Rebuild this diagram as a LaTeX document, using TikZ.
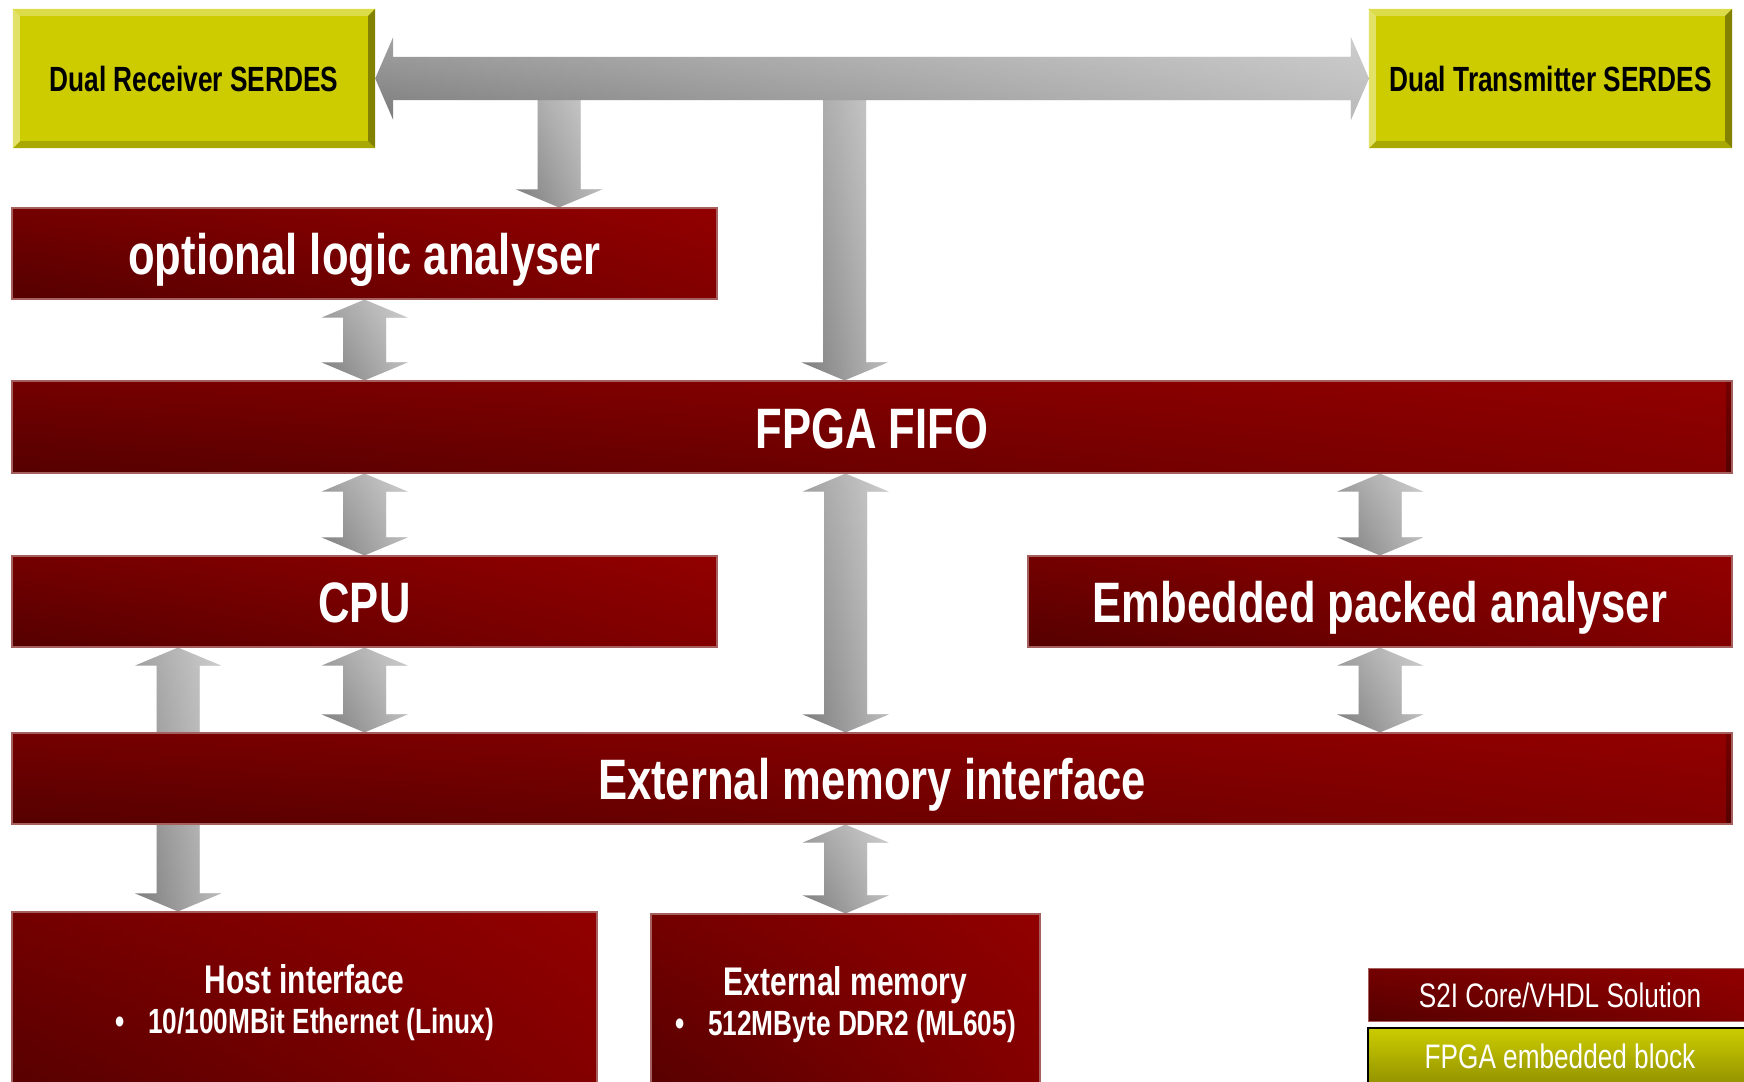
\documentclass[tikz,border=0pt]{standalone}
\usepackage{fontspec}
\setmainfont{Liberation Sans}[FakeStretch=0.75]
\newfontfamily\bigfont{Liberation Sans}[FakeStretch=0.765]
\newfontfamily\legendfont{Liberation Sans}[FakeStretch=0.77]
\usetikzlibrary{calc,fadings}

\definecolor{redTop}{RGB}{132,0,0}
\definecolor{redBot}{RGB}{70,0,0}
\definecolor{redOver}{RGB}{176,0,0}
\definecolor{redEdge}{RGB}{165,95,95}
\definecolor{yelFace}{RGB}{204,204,0}
\definecolor{yelTop}{RGB}{220,220,75}
\definecolor{yelLeft}{RGB}{226,226,105}
\definecolor{yelRight}{RGB}{130,130,0}
\definecolor{yelBottom}{RGB}{168,168,0}
\definecolor{yelLow}{RGB}{148,148,0}
\definecolor{grayTop}{RGB}{182,182,182}
\definecolor{grayBot}{RGB}{104,104,104}
\definecolor{grayOver}{RGB}{250,250,250}

% full-height vertical gradients, stretched to each shape
\pgfdeclareverticalshading{redvert}{100bp}{color(0bp)=(redBot); color(100bp)=(redTop)}
\pgfdeclareverticalshading{grayvert}{100bp}{color(0bp)=(grayBot); color(100bp)=(grayTop)}

\pgfdeclarelayer{arrows}
\pgfsetlayers{arrows,main}

\tikzset{
  redshade/.style={shading=redvert,
    path picture={\fill[redOver, path fading=west, fill opacity=0.5]
      (path picture bounding box.south west) rectangle (path picture bounding box.north east);}},
  redbox/.style={rectangle, inner sep=0pt, redshade, draw=redEdge, line width=1.2pt,
    text=white, font=\bigfont\bfseries\fontsize{57}{60}\selectfont,
    text height=42pt, text depth=0pt},
  yelbox/.style={rectangle, inner sep=0pt, fill=yelFace,
    font=\bfseries\fontsize{35}{40}\selectfont, text height=26pt, text depth=0pt},
  sublabel/.style={anchor=base, inner sep=0pt, text=white},
  arrowshade/.style={shading=grayvert,
    path picture={\fill[grayOver, path fading=west, fill opacity=0.5]
      (path picture bounding box.south west) rectangle (path picture bounding box.north east);}},
}

% vertical block arrow with heads at both ends (#1 upper tip, #2 lower tip)
\newcommand\vtwohead[2]{%
  \shade[arrowshade] let \p1=(#1), \p2=(#2) in
  (\x1,\y1) -- (\x1+43pt,\y1-18pt) -- (\x1+21.5pt,\y1-18pt) -- (\x2+21.5pt,\y2+18pt)
  -- (\x2+43pt,\y2+18pt) -- (\x2,\y2) -- (\x2-43pt,\y2+18pt) -- (\x2-21.5pt,\y2+18pt)
  -- (\x1-21.5pt,\y1-18pt) -- (\x1-43pt,\y1-18pt) -- cycle;}
% vertical block arrow pointing down (#1 tail, #2 tip)
\newcommand\vonehead[2]{%
  \shade[arrowshade] let \p1=(#1), \p2=(#2) in
  (\x1-21.5pt,\y1) -- (\x1+21.5pt,\y1) -- (\x2+21.5pt,\y2+18pt) -- (\x2+43pt,\y2+18pt)
  -- (\x2,\y2) -- (\x2-43pt,\y2+18pt) -- (\x2-21.5pt,\y2+18pt) -- cycle;}
% horizontal block arrow with heads at both ends (#1 left tip, #2 right tip)
\newcommand\htwohead[2]{%
  \shade[arrowshade] let \p1=(#1), \p2=(#2) in
  (\x1,\y1) -- (\x1+18pt,\y1+41.5pt) -- (\x1+18pt,\y1+21.5pt) -- (\x2-18pt,\y2+21.5pt)
  -- (\x2-18pt,\y2+41.5pt) -- (\x2,\y2) -- (\x2-18pt,\y2-41.5pt) -- (\x2-18pt,\y2-21.5pt)
  -- (\x1+18pt,\y1-21.5pt) -- (\x1+18pt,\y1-41.5pt) -- cycle;}
% bevelled frame of a yellow block
\newcommand\bevel[1]{%
  \fill[yelTop] (#1.north west) -- (#1.north east) -- ([shift={(-7pt,-7pt)}]#1.north east)
    -- ([shift={(7pt,-7pt)}]#1.north west) -- cycle;
  \fill[yelBottom] (#1.south west) -- (#1.south east) -- ([shift={(-7pt,7pt)}]#1.south east)
    -- ([shift={(7pt,7pt)}]#1.south west) -- cycle;
  \fill[yelLeft] (#1.north west) -- (#1.south west) -- ([shift={(7pt,7pt)}]#1.south west)
    -- ([shift={(7pt,-7pt)}]#1.north west) -- cycle;
  \fill[yelRight] (#1.north east) -- (#1.south east) -- ([shift={(-7pt,7pt)}]#1.south east)
    -- ([shift={(-7pt,-7pt)}]#1.north east) -- cycle;}

\begin{document}
\begin{tikzpicture}[x=1pt, y=-1pt]
\useasboundingbox (0,0) rectangle (1744,1081);
\clip (0,0) rectangle (1744,1081);

% SERDES blocks
\node[yelbox, minimum width=362pt, minimum height=139pt] (rx) at (194,78.5) {Dual Receiver SERDES};
\bevel{rx}
\node[yelbox, minimum width=363pt, minimum height=139pt] (tx) at (1550.5,78.5) {Dual Transmitter SERDES};
\bevel{tx}

% core blocks
\node[redbox, minimum width=705pt, minimum height=91pt] (opt) at (364.5,253.5) {optional logic analyser};
\node[redbox, minimum width=1720pt, minimum height=92pt] (fifo) at (872,427) {FPGA FIFO};
\node[redbox, minimum width=705pt, minimum height=91pt] (cpu) at (364.5,601.5) {CPU};
\node[redbox, minimum width=704pt, minimum height=91pt] (epa) at (1380,601.5) {Embedded packed analyser};
\node[redbox, minimum width=1720pt, minimum height=91pt] (emi) at (872,778.5) {External memory interface};
\node[redbox, minimum width=585pt, minimum height=188pt] (host) at (304.5,1006) {};
\node[redbox, minimum width=389pt, minimum height=186pt] (xmem) at (845.5,1007) {};

\node[sublabel, font=\bfseries\fontsize{40}{44}\selectfont] (hostT) at (304.5,993) {Host interface};
\node[sublabel, font=\bfseries\fontsize{35}{40}\selectfont] (hostB) at (304.5,1033)
  {\textbullet\hspace{24pt}10/100MBit Ethernet (Linux)};
\node[sublabel, font=\bfseries\fontsize{40}{44}\selectfont] (xmemT) at (845.5,995) {External memory};
\node[sublabel, font=\bfseries\fontsize{35}{40}\selectfont] (xmemB) at (845.5,1035)
  {\textbullet\hspace{24pt}512MByte DDR2 (ML605)};

% legend
\node[redbox, line width=0.8pt, minimum width=384pt, minimum height=53pt,
  font=\legendfont\fontsize{34}{40}\selectfont, text height=25pt] (lgCore) at (1560,994.5)
  {S2I Core/VHDL Solution};
\node[rectangle, inner sep=0pt, top color=yelFace, bottom color=yelLow, draw=black,
  line width=2pt, text=white, minimum width=384pt, minimum height=55pt,
  font=\legendfont\fontsize{34}{40}\selectfont, text height=25pt, text depth=0pt]
  (lgFpga) at (1560,1055.5) {FPGA embedded block};

% data paths
\coordinate (tapA) at (559,100);
\coordinate (tapB) at (844.5,100);
\coordinate (hostLink) at (178,0);
\begin{pgfonlayer}{arrows}
  \vonehead{tapA}{tapA |- opt.north}
  \vonehead{tapB}{tapB |- fifo.north}
  \htwohead{rx.east}{tx.west}
  \vtwohead{opt.south}{opt.south |- fifo.north}
  \vtwohead{cpu.north |- fifo.south}{cpu.north}
  \vtwohead{xmem.north |- fifo.south}{xmem.north |- emi.north}
  \vtwohead{epa.north |- fifo.south}{epa.north}
  \vtwohead{cpu.south}{cpu.south |- emi.north}
  \vtwohead{epa.south}{epa.south |- emi.north}
  \vtwohead{hostLink |- cpu.south}{hostLink |- host.north}
  \vtwohead{xmem.north |- emi.south}{xmem.north}
\end{pgfonlayer}
\end{tikzpicture}
\end{document}
